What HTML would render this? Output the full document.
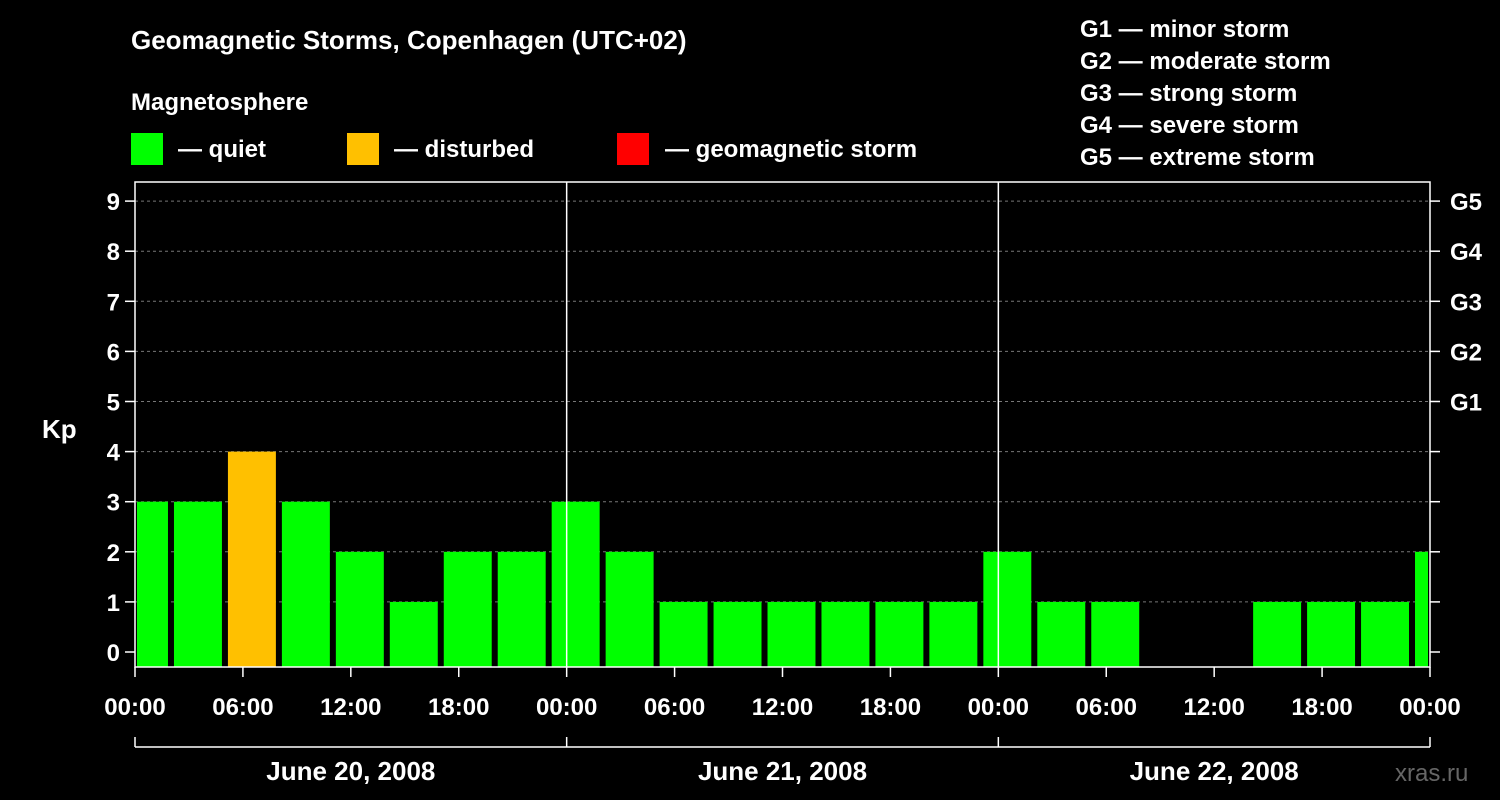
<!DOCTYPE html>
<html><head><meta charset="utf-8"><style>
body{margin:0;background:#000;width:1500px;height:800px;overflow:hidden;font-family:"Liberation Sans",sans-serif;font-weight:bold;color:#fff}
</style></head><body>
<svg id="c" width="1500" height="800" style="position:absolute;left:0;top:0" font-family="Liberation Sans, sans-serif" font-weight="bold">
<text x="131" y="49" font-size="26" fill="#fff">Geomagnetic Storms, Copenhagen (UTC+02)</text>
<text x="131" y="110" font-size="24" fill="#fff">Magnetosphere</text>
<rect x="131" y="133" width="32" height="32" fill="#00ff00"/>
<text x="178" y="157" font-size="24" fill="#fff">— quiet</text>
<rect x="347" y="133" width="32" height="32" fill="#ffc000"/>
<text x="394" y="157" font-size="24" fill="#fff">— disturbed</text>
<rect x="617" y="133" width="32" height="32" fill="#ff0000"/>
<text x="665" y="157" font-size="24" fill="#fff">— geomagnetic storm</text>
<g font-size="24" fill="#fff">
<text x="1080" y="37">G1 — minor storm</text>
<text x="1080" y="69">G2 — moderate storm</text>
<text x="1080" y="101">G3 — strong storm</text>
<text x="1080" y="133">G4 — severe storm</text>
<text x="1080" y="165">G5 — extreme storm</text>
</g>
<text x="42" y="438" font-size="26" fill="#fff">Kp</text>
<text x="1395" y="781" font-size="24" fill="#666" font-weight="normal">xras.ru</text>
<g id="plot"></g>
</svg>
<script>
const kpValues=[3,3,4,3,2,1,2,2,3,2,1,1,1,1,1,1,2,1,1,null,null,1,1,1,2];
const yTicks=[0,1,2,3,4,5,6,7,8,9];
const gLabels=["G1","G2","G3","G4","G5"];
const xLabels=["00:00","06:00","12:00","18:00","00:00","06:00","12:00","18:00","00:00","06:00","12:00","18:00","00:00"];
const dayLabels=["June 20, 2008","June 21, 2008","June 22, 2008"];
const L=135,R=1430,T=182,B=667;
const hourW=(R-L)/72;
const xs=h=>L+h*hourW;
const ys=v=>652-v*50.1;
const NS="http://www.w3.org/2000/svg";
const g=document.getElementById('plot');
function mk(t,a,txt){const e=document.createElementNS(NS,t);for(const k in a)e.setAttribute(k,a[k]);if(txt!=null)e.textContent=txt;g.appendChild(e);return e;}
yTicks.forEach(v=>{
 if(v>0){const l=mk('line',{x1:L,x2:R,y1:ys(v),y2:ys(v),stroke:'#777','stroke-dasharray':'3,3'});
 
 }
 const t1=mk('line',{x1:L-10,x2:L,y1:ys(v),y2:ys(v),stroke:'#fff','stroke-width':1.5});
 
 
 const t2=mk('line',{x1:R,x2:R+10,y1:ys(v),y2:ys(v),stroke:'#fff','stroke-width':1.5});
 
 
 const tl=mk('text',{x:L-15,y:ys(v)+9,'text-anchor':'end','font-size':24,fill:'#fff'},String(v));
 
 
});
gLabels.forEach((s,i)=>{
 const t=mk('text',{x:R+20,y:ys(5+i)+9,'font-size':24,fill:'#fff'},s);
 
 
});
kpValues.forEach((v,i)=>{
 if(v==null)return;
 let h0=-1+i*3,h1=h0+3;
 let x0=xs(Math.max(0,h0))+3,x1=xs(Math.min(72,h1))-3;
 if(h0<0)x0=xs(0)+2; if(h1>72)x1=xs(72)-2;
 const col=v>=5?'#ff0000':(v>=4?'#ffc000':'#00ff00');
 const r=mk('rect',{x:x0,y:ys(v),width:x1-x0,height:B-ys(v),fill:col});
 
 
});
[24,48].forEach(h=>{
 const l=mk('line',{x1:xs(h),x2:xs(h),y1:T,y2:B,stroke:'#fff','stroke-width':1.5});
 
 
});
const f=mk('rect',{x:L,y:T,width:R-L,height:B-T,fill:'none',stroke:'#fff','stroke-width':1.5});


xLabels.forEach((s,i)=>{
 const x=xs(i*6);
 const tk=mk('line',{x1:x,x2:x,y1:B,y2:B+10,stroke:'#fff','stroke-width':1.5});
 
 
 const t=mk('text',{x:x,y:715,'text-anchor':'middle','font-size':24,fill:'#fff'},s);
 
 
});
const br=mk('line',{x1:L,x2:R,y1:747,y2:747,stroke:'#fff','stroke-width':1.5});


[0,24,48,72].forEach(h=>{
 const t=mk('line',{x1:xs(h),x2:xs(h),y1:737,y2:747,stroke:'#fff','stroke-width':1.5});
 
 
});
dayLabels.forEach((s,i)=>{
 const t=mk('text',{x:xs(i*24+12),y:780,'text-anchor':'middle','font-size':26,fill:'#fff'},s);
 
 
});
</script>
</body></html>
